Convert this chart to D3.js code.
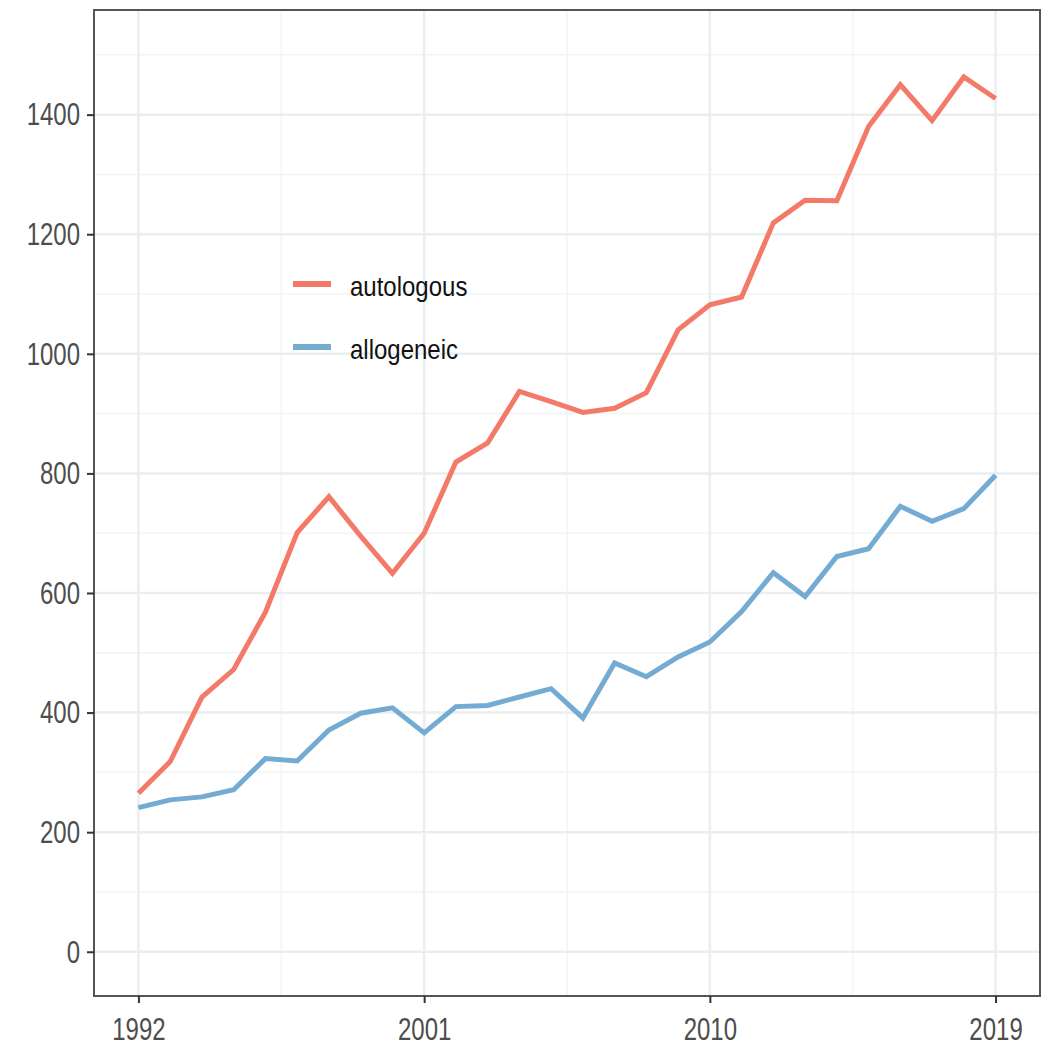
<!DOCTYPE html>
<html>
<head>
<meta charset="utf-8">
<script src="https://cdn.jsdelivr.net/npm/d3@7"></script>
<style>
  body { margin: 0; background: #fff; }
  svg text { font-family: "Liberation Sans", Arial, sans-serif; }
  .tall { transform-box: fill-box; transform-origin: center; transform: scaleY(1.32); }
  .legtall { transform-box: fill-box; transform-origin: center; transform: scaleY(1.12); }
</style>
</head>
<body>
<script>
// years on the x axis
var years = [1992,1993,1994,1995,1996,1997,1998,1999,2000,2001,
             2002,2003,2004,2005,2006,2007,2008,2009,2010,2011,
             2012,2013,2014,2015,2016,2017,2018,2019];
// autologous transplants
var autologous = [265,318,426,472,568,701,761,695,633,700,
                  819,851,937,920,902,909,935,1040,1082,1095,
                  1219,1257,1256,1380,1450,1390,1463,1427];
// allogeneic transplants
var allogeneic = [241,254,259,271,323,319,371,399,408,366,
                  410,412,426,440,391,483,460,493,518,569,
                  634,594,661,674,745,720,741,797];
var seriesNames = ['autologous','allogeneic'];
var seriesColors = ['#f37a69','#73abd3'];
var xTicks = [1992,2001,2010,2019];
var xMinor = [1996.5,2005.5,2014.5];
var yTicks = [0,200,400,600,800,1000,1200,1400];
var yMinor = [100,300,500,700,900,1100,1300,1500];

var width = 1051, height = 1051,
    margin = {left:94, top:10, right:11, bottom:55},
    g_width = width - margin.left - margin.right,
    g_height = height - margin.top - margin.bottom;

var svg = d3.select('body').append('svg')
            .attr('width',width)
            .attr('height',height);
var g = svg.append('g').attr('transform','translate('+margin.left+','+margin.top+')');

var scale_x = d3.scaleLinear().domain([1990.6,2020.4]).range([0,g_width]);
var scale_y = d3.scaleLinear().domain([-74,1575]).range([g_height,0]);

// grid
g.selectAll('.minor-y').data(yMinor).enter().append('line')
  .attr('x1',0).attr('x2',g_width)
  .attr('y1',d=>scale_y(d)).attr('y2',d=>scale_y(d))
  .attr('stroke','#f2f4f4').attr('stroke-width',1.5);
g.selectAll('.minor-x').data(xMinor).enter().append('line')
  .attr('y1',0).attr('y2',g_height)
  .attr('x1',d=>scale_x(d)).attr('x2',d=>scale_x(d))
  .attr('stroke','#f2f4f4').attr('stroke-width',1.5);
g.selectAll('.major-y').data(yTicks).enter().append('line')
  .attr('x1',0).attr('x2',g_width)
  .attr('y1',d=>scale_y(d)).attr('y2',d=>scale_y(d))
  .attr('stroke','#ebeeee').attr('stroke-width',2.5);
g.selectAll('.major-x').data(xTicks).enter().append('line')
  .attr('y1',0).attr('y2',g_height)
  .attr('x1',d=>scale_x(d)).attr('x2',d=>scale_x(d))
  .attr('stroke','#ebeeee').attr('stroke-width',2.5);

// lines
var line_generator = d3.line()
  .x(function(d,i){return scale_x(years[i]);})
  .y(function(d){return scale_y(d);});

[autologous, allogeneic].forEach(function(s,k){
  g.append('path').attr('d',line_generator(s))
    .attr('fill','none')
    .attr('stroke',seriesColors[k])
    .attr('stroke-width',5)
    .attr('stroke-linejoin','miter');
});

// panel border
g.append('rect').attr('x',0).attr('y',0).attr('width',g_width).attr('height',g_height)
  .attr('fill','none').attr('stroke','#555').attr('stroke-width',2);

// axes
var x_axis = d3.axisBottom(scale_x).tickValues(xTicks).tickFormat(d3.format('d')).tickSize(7).tickPadding(10),
    y_axis = d3.axisLeft(scale_y).tickValues(yTicks).tickFormat(d3.format('d')).tickSize(7).tickPadding(7);

var gx = g.append('g').attr('transform','translate(0,'+g_height+')').call(x_axis);
var gy = g.append('g').call(y_axis);
[gx,gy].forEach(function(a){
  a.select('.domain').remove();
  a.selectAll('line').attr('stroke','#333').attr('stroke-width',2);
  a.selectAll('text').attr('font-size',24).attr('fill','#4d4d4d')
    .attr('font-family','"Liberation Sans", Arial, sans-serif').attr('class','tall');
});
gx.selectAll('text').attr('dy','0.71em').attr('y',24);

// legend
var legend = svg.append('g').attr('transform','translate(293,287)');
seriesNames.forEach(function(n,i){
  var it = legend.append('g').attr('transform','translate(0,'+(i*63)+')');
  it.append('line').attr('x1',0).attr('x2',38).attr('y1',-3).attr('y2',-3)
    .attr('stroke',seriesColors[i]).attr('stroke-width',6);
  it.append('text').attr('x',57).attr('y',0).attr('dy','0.35em')
    .attr('font-size',24).attr('fill','#111').attr('class','legtall').text(n);
});
</script>
</body>
</html>
